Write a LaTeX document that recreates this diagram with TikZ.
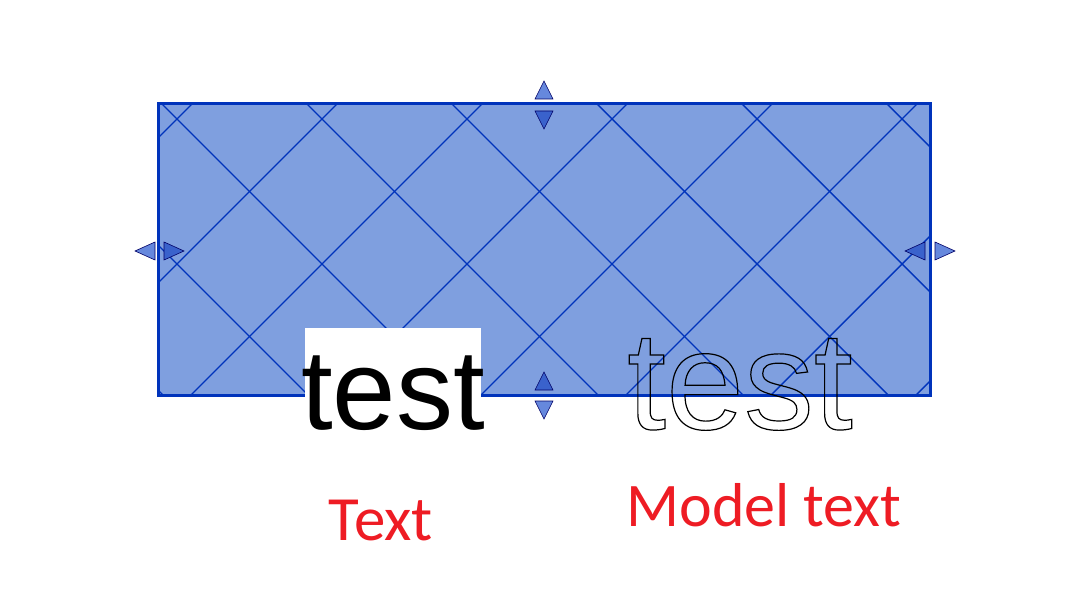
\documentclass[tikz,border=0pt]{standalone}
\usepackage{fontspec}
\setmainfont{Liberation Sans}
\newfontfamily\calib{Carlito}
\begin{document}
\begin{tikzpicture}[x=1pt,y=-1pt,
  tri/.style={draw=black!60!blue,line width=0.6pt,fill=#1},
  hatch/.style={line width=1.4pt}]
\useasboundingbox (0,0) rectangle (1092,593);
\definecolor{fillb}{HTML}{7F9FDF}
\definecolor{edgeb}{HTML}{0033BB}
\definecolor{lt}{HTML}{6688DD}
\definecolor{dk}{HTML}{3A62CC}
\definecolor{redt}{HTML}{EE1C24}
\fill[fillb] (158,104) rectangle (930,395);
\begin{scope}
\clip (158,104) rectangle (930,395);
\foreach \k in {-3,...,7} {
  \draw[hatch,draw=edgeb] ({58+145*\k},0) -- ({58+145*\k+500},500);
  \draw[hatch,draw=edgeb] ({296+145*\k},0) -- ({296+145*\k-500},500);
}
\end{scope}
\draw[edgeb,line width=3pt] (158,104) rectangle (930,395);
% handles
\draw[tri=lt] (535,99) -- (553,99) -- (544,81) -- cycle;
\draw[tri=dk] (535,111) -- (553,111) -- (544,129) -- cycle;
\draw[tri=dk] (535,390) -- (553,390) -- (544,372) -- cycle;
\draw[tri=lt] (535,401) -- (553,401) -- (544,419) -- cycle;
\draw[tri=lt] (155,242) -- (155,260) -- (135,251) -- cycle;
\draw[tri=dk] (164,242) -- (164,260) -- (184,251) -- cycle;
\draw[tri=dk] (925,242) -- (925,260) -- (905,251) -- cycle;
\draw[tri=lt] (935,242) -- (935,260) -- (955,251) -- cycle;
% texts
\fill[white] (305,328) rectangle (481,432);
\node[inner sep=0pt,anchor=base] (t1) at (393,429) {\fontsize{114}{116}\selectfont test};
\node[inner sep=0pt,anchor=base] (t2) at (740,429) {\fontsize{140}{142}\selectfont\special{pdf:literal direct 1 Tr 1.2 w}test\special{pdf:literal direct 0 Tr}};
\node[text=redt] (l1) at (381,521) {\calib\fontsize{63}{65}\selectfont Text};
\node[text=redt] (l2) at (764,505) {\calib\fontsize{62}{64}\selectfont Model text};
\end{tikzpicture}
\end{document}
